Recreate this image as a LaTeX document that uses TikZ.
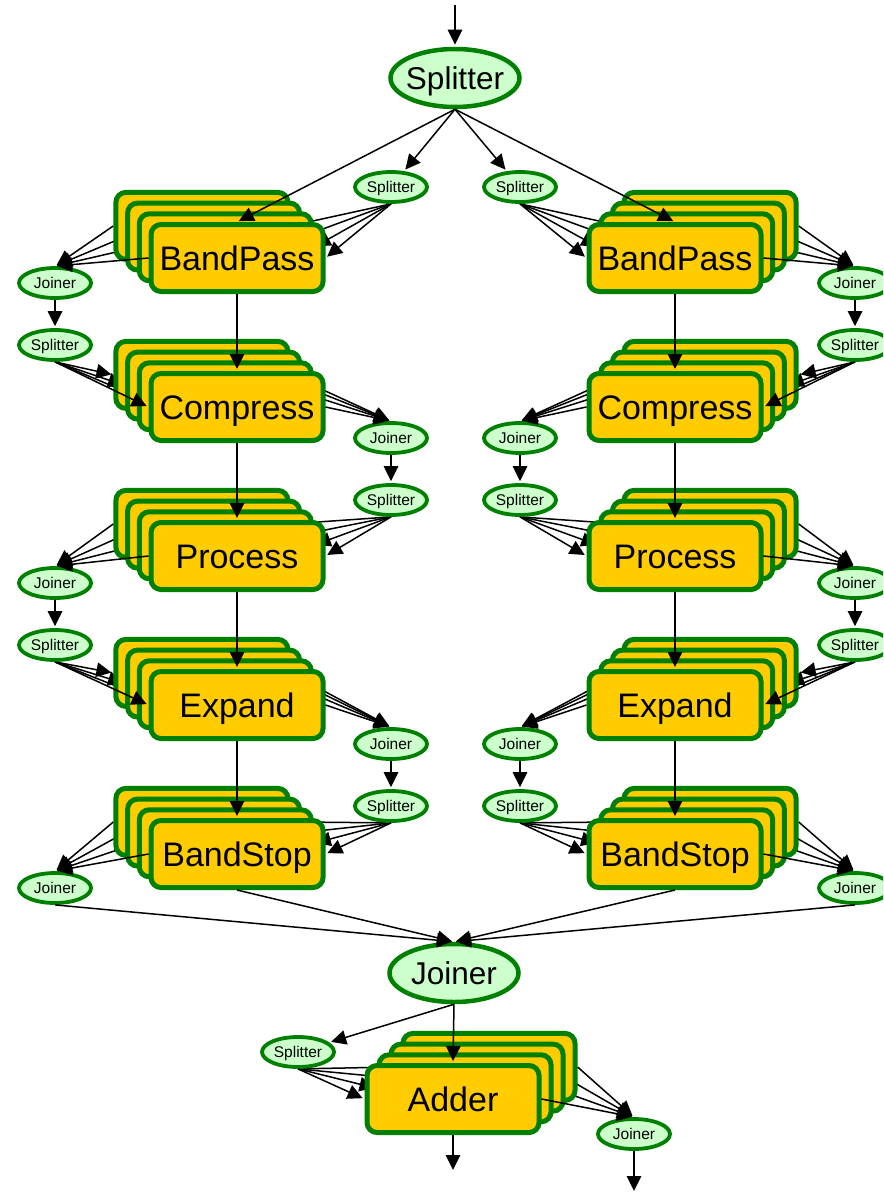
\documentclass[tikz,border=0pt]{standalone}
\usepackage{fontspec}
\setmainfont{Liberation Sans}
\usetikzlibrary{shapes.geometric,arrows.meta}
\pgfdeclarelayer{background}
\pgfsetlayers{background,main}
\definecolor{nodegreen}{HTML}{008000}
\definecolor{ovalfill}{HTML}{CCFFCC}
\definecolor{boxfill}{HTML}{FFCC00}

\tikzset{
  procbox/.style={draw=nodegreen, fill=boxfill, line width=5pt, rounded corners=10pt,
    minimum width=172pt, minimum height=67pt, inner sep=0pt,
    text height=24pt, text depth=0pt, font=\fontsize{34}{40}\selectfont},
  smalloval/.style={ellipse, draw=nodegreen, fill=ovalfill, line width=3.8pt,
    minimum width=72pt, minimum height=30pt, inner sep=0pt,
    text height=11pt, text depth=0pt, font=\fontsize{15.5}{18}\selectfont},
  bigoval/.style={ellipse, draw=nodegreen, fill=ovalfill, line width=4.5pt,
    minimum width=129pt, minimum height=58pt, inner sep=0pt,
    text height=22.5pt, text depth=0pt, font=\fontsize{31.5}{36}\selectfont},
  conn/.style={draw=black, line width=1.5pt, -{Triangle[length=15pt,width=14.5pt]}, shorten >=2pt},
}

% a stack of four filter boxes; #4 is the horizontal step of the copies behind
\newcommand\procstack[5]{%
  \foreach \k in {0,1,2}{
    \node[procbox] (#1-\k) at ({#2+(#4)*(3-\k)},{#3-10.7*(3-\k)}) {};
  }
  \node[procbox] (#1-3) at (#2,#3) {#5};
}
% splitter feeding every box of a stack
\newcommand\splitfan[3]{%
  \begin{pgfonlayer}{background}
    \foreach \k in {0,1,2} \draw[conn] (#1.south) -- (#2-\k.#3);
  \end{pgfonlayer}
  \draw[conn] (#1.south) -- (#2-3.#3);
}
% every box of a stack feeding a joiner
\newcommand\joinfan[3]{%
  \begin{pgfonlayer}{background}
    \foreach \k in {0,1,2} \draw[conn] (#1-\k.#2) -- (#3.north);
  \end{pgfonlayer}
  \draw[conn] (#1-3.#2) -- (#3.north);
}
\newcommand\ovaltext[1]{\makebox[0pt]{#1}}

\begin{document}
\begin{tikzpicture}[x=1pt,y=-1pt]
\path[use as bounding box] (0,0) rectangle (883,1193);
\clip (0,0) rectangle (883,1193);

% ---- splitters and joiners ----
\coordinate (in) at (455,5);
\node[bigoval] (top) at (455,78) {\ovaltext{Splitter}};
\node[smalloval] (sL) at (391,187) {\ovaltext{Splitter}};
\node[smalloval] (sR) at (520,187) {\ovaltext{Splitter}};

\node[smalloval] (jL1) at (55,283) {\ovaltext{Joiner}};
\node[smalloval] (sL2) at (55,345) {\ovaltext{Splitter}};
\node[smalloval] (jM1) at (391,438) {\ovaltext{Joiner}};
\node[smalloval] (sM2) at (391,500) {\ovaltext{Splitter}};
\node[smalloval] (jL3) at (55,583) {\ovaltext{Joiner}};
\node[smalloval] (sL4) at (55,645) {\ovaltext{Splitter}};
\node[smalloval] (jM3) at (391,744) {\ovaltext{Joiner}};
\node[smalloval] (sM4) at (391,806) {\ovaltext{Splitter}};
\node[smalloval] (jL5) at (55,888) {\ovaltext{Joiner}};

\node[smalloval] (jR1) at (855,283) {\ovaltext{Joiner}};
\node[smalloval] (sR2) at (855,345) {\ovaltext{Splitter}};
\node[smalloval] (jN1) at (520,438) {\ovaltext{Joiner}};
\node[smalloval] (sN2) at (520,500) {\ovaltext{Splitter}};
\node[smalloval] (jR3) at (855,583) {\ovaltext{Joiner}};
\node[smalloval] (sR4) at (855,645) {\ovaltext{Splitter}};
\node[smalloval] (jN3) at (520,744) {\ovaltext{Joiner}};
\node[smalloval] (sN4) at (520,806) {\ovaltext{Splitter}};
\node[smalloval] (jR5) at (855,888) {\ovaltext{Joiner}};

\node[bigoval] (J0) at (454,973) {\ovaltext{Joiner}};
\node[smalloval] (sA) at (298,1052) {\ovaltext{Splitter}};
\node[smalloval] (jA) at (634,1134) {\ovaltext{Joiner}};
\coordinate (outA) at (453,1172);
\coordinate (outJ) at (634,1193);

% ---- filter stacks ----
\procstack{L1}{237}{258}{-11.7}{BandPass}
\procstack{L2}{237}{407}{-11.7}{Compress}
\procstack{L3}{237}{556}{-11.7}{Process}
\procstack{L4}{237}{705}{-11.7}{Expand}
\procstack{L5}{237}{854}{-11.7}{BandStop}

\procstack{R1}{675}{258}{11.7}{BandPass}
\procstack{R2}{675}{407}{11.7}{Compress}
\procstack{R3}{675}{556}{11.7}{Process}
\procstack{R4}{675}{705}{11.7}{Expand}
\procstack{R5}{675}{854}{11.7}{BandStop}

\procstack{A}{453}{1099}{12}{Adder}

% ---- connectors ----
\draw[conn] (in) -- (top.north);
\draw[conn] (top.south) -- (sL);
\draw[conn] (top.south) -- (sR);
\draw[conn] (top.south) -- (L1-3.north);
\draw[conn] (top.south) -- (R1-3.north);

% left branch
\splitfan{sL}{L1}{east}
\joinfan{L1}{west}{jL1}
\draw[conn] (jL1) -- (sL2);
\splitfan{sL2}{L2}{west}
\joinfan{L2}{east}{jM1}
\draw[conn] (jM1) -- (sM2);
\splitfan{sM2}{L3}{east}
\joinfan{L3}{west}{jL3}
\draw[conn] (jL3) -- (sL4);
\splitfan{sL4}{L4}{west}
\joinfan{L4}{east}{jM3}
\draw[conn] (jM3) -- (sM4);
\splitfan{sM4}{L5}{east}
\joinfan{L5}{west}{jL5}
\draw[conn] (L1-3.south) -- (L2-3.north);
\draw[conn] (L2-3.south) -- (L3-3.north);
\draw[conn] (L3-3.south) -- (L4-3.north);
\draw[conn] (L4-3.south) -- (L5-3.north);
\draw[conn] (L5-3.south) -- (J0.north);
\draw[conn] (jL5.south) -- (J0.north);

% right branch
\splitfan{sR}{R1}{west}
\joinfan{R1}{east}{jR1}
\draw[conn] (jR1) -- (sR2);
\splitfan{sR2}{R2}{east}
\joinfan{R2}{west}{jN1}
\draw[conn] (jN1) -- (sN2);
\splitfan{sN2}{R3}{west}
\joinfan{R3}{east}{jR3}
\draw[conn] (jR3) -- (sR4);
\splitfan{sR4}{R4}{east}
\joinfan{R4}{west}{jN3}
\draw[conn] (jN3) -- (sN4);
\splitfan{sN4}{R5}{west}
\joinfan{R5}{east}{jR5}
\draw[conn] (R1-3.south) -- (R2-3.north);
\draw[conn] (R2-3.south) -- (R3-3.north);
\draw[conn] (R3-3.south) -- (R4-3.north);
\draw[conn] (R4-3.south) -- (R5-3.north);
\draw[conn] (R5-3.south) -- (J0.north);
\draw[conn] (jR5.south) -- (J0.north);

% adder stage
\draw[conn] (J0.south) -- (sA);
\draw[conn] (J0.south) -- (A-3.north);
\splitfan{sA}{A}{west}
\joinfan{A}{east}{jA}
\draw[conn] (A-3.south) -- (outA);
\draw[conn] (jA.south) -- (outJ);
\end{tikzpicture}
\end{document}
